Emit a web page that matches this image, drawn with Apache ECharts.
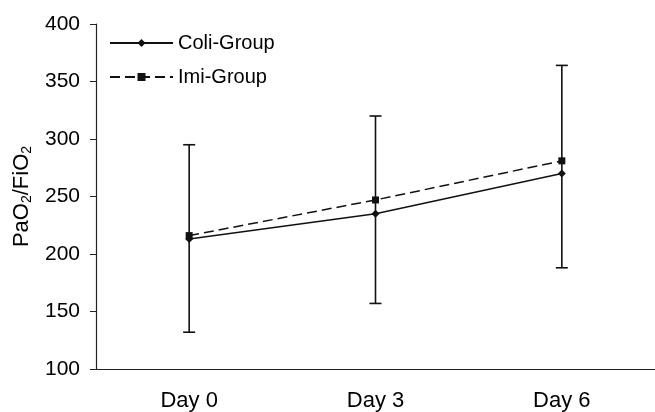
<!DOCTYPE html>
<html><head><meta charset="utf-8">
<script src="https://cdn.jsdelivr.net/npm/echarts@6/dist/echarts.min.js"></script>
<style>html,body{margin:0;padding:0;background:#fff}#c{width:655px;height:412px}</style>
</head><body><div id="c"></div>
<script>
const categories = ['Day 0', 'Day 3', 'Day 6'];
const coliValues = [213, 235, 270];
const imiValues = [216, 247, 281];
const errUpper = [295, 320, 364];
const errLower = [132, 157, 188];
const yTicks = [100, 150, 200, 250, 300, 350, 400];

const FONT = 'Liberation Sans, Arial, sans-serif';
const chart = echarts.init(document.getElementById('c'), null, {renderer: 'canvas'});
chart.setOption({
  animation: false,
  backgroundColor: '#fff',
  grid: {left: 96, right: 0, top: 24, bottom: 42},
  legend: {
    orient: 'vertical', left: 104, top: 28,
    itemWidth: 63, itemHeight: 10, itemGap: 14,
    textStyle: {fontFamily: FONT, fontSize: 20, color: '#000'},
    data: ['Coli-Group', 'Imi-Group']
  },
  xAxis: {
    type: 'category', data: categories, boundaryGap: true,
    axisLine: {lineStyle: {color: '#222', width: 1.2}},
    axisTick: {inside: false, length: 6, lineStyle: {color: '#222'}},
    axisLabel: {fontFamily: FONT, fontSize: 22, color: '#000', margin: 21}
  },
  yAxis: {
    type: 'value', min: yTicks[0], max: yTicks[yTicks.length - 1], interval: 50,
    name: 'PaO{sub|2}/FiO{sub|2}', nameLocation: 'middle', nameGap: 61, nameRotate: 90,
    nameTextStyle: {fontFamily: FONT, fontSize: 22, color: '#000',
      rich: {sub: {fontFamily: FONT, fontSize: 14, color: '#000', verticalAlign: 'bottom', padding: [11, 0, 0, 0]}}},
    axisLine: {show: true, lineStyle: {color: '#222', width: 1.2}},
    axisTick: {show: true, length: 6, lineStyle: {color: '#222'}},
    splitLine: {show: false},
    axisLabel: {fontFamily: FONT, fontSize: 21, color: '#000', margin: 16}
  },
  series: [
    {
      type: 'custom', name: 'err', silent: true, z: 1,
      renderItem: function (params, api) {
        const x = api.coord([api.value(0), api.value(1)])[0];
        const hi = api.coord([api.value(0), api.value(1)])[1];
        const lo = api.coord([api.value(0), api.value(2)])[1];
        const hw = 6;
        const st = {stroke: '#111', lineWidth: 1.6};
        return {type: 'group', children: [
          {type: 'line', shape: {x1: x, y1: hi, x2: x, y2: lo}, style: st},
          {type: 'line', shape: {x1: x - hw, y1: hi, x2: x + hw, y2: hi}, style: st},
          {type: 'line', shape: {x1: x - hw, y1: lo, x2: x + hw, y2: lo}, style: st}
        ]};
      },
      data: categories.map((c, i) => [i, errUpper[i], errLower[i]])
    },
    {
      name: 'Coli-Group', type: 'line', data: coliValues, z: 3,
      symbol: 'diamond', symbolSize: 8,
      lineStyle: {color: '#111', width: 1.5},
      itemStyle: {color: '#111'}
    },
    {
      name: 'Imi-Group', type: 'line', data: imiValues, z: 2,
      symbol: 'rect', symbolSize: 7,
      lineStyle: {color: '#111', width: 1.5, type: [10, 5]},
      itemStyle: {color: '#111'}
    }
  ]
});
</script></body></html>
